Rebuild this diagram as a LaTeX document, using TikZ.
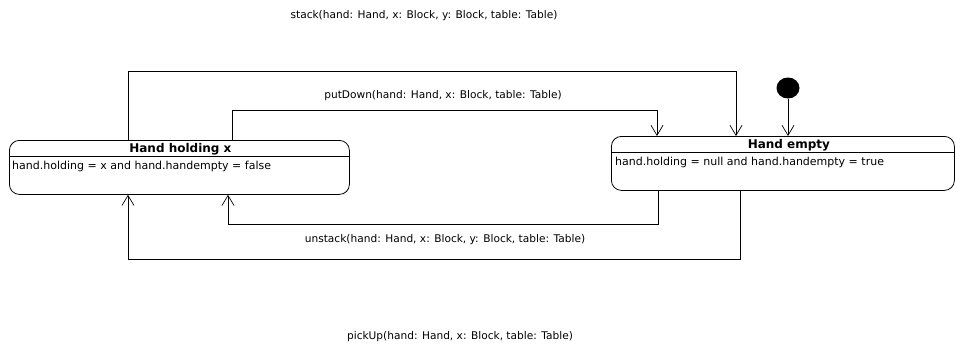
\documentclass[tikz,border=0pt]{standalone}
\usepackage{fontspec}
\setmainfont{DejaVu Sans}
\usetikzlibrary{arrows.meta,calc,shapes.geometric}
\tikzset{
  statebox/.style={draw, rounded corners=10pt, line width=0.8pt, minimum width=343pt, minimum height=54pt, anchor=north west, inner sep=0pt},
  titletext/.style={font=\fontsize{12}{14}\selectfont\bfseries, inner sep=0pt},
  bodytext/.style={font=\fontsize{11}{13}\selectfont, anchor=west, inner sep=0pt},
  lbl/.style={font=\fontsize{10.6}{12}\selectfont, inner sep=0pt},
  trans/.style={draw, line width=0.7pt, -{Straight Barb[length=10pt,width=12pt,line width=0.7pt]}},
}
\begin{document}
\begin{tikzpicture}[x=1pt,y=-1pt]
\useasboundingbox (0,0) rectangle (956,345);
% states
\node[statebox, minimum width=340pt] (L) at (9,140) {};
\draw[line width=0.8pt] ($(L.north west)+(0,16)$) -- ($(L.north east)+(0,16)$);
\node[titletext] (Lt) at ($(L.north)+(1,9)$) {Hand holding x};
\node[bodytext] (Lb) at ($(L.north west)+(3,26)$) {hand.holding = x and hand.handempty = false};

\node[statebox] (R) at (611,136) {};
\draw[line width=0.8pt] ($(R.north west)+(0,16)$) -- ($(R.north east)+(0,16)$);
\node[titletext] (Rt) at ($(R.north)+(6,9)$) {Hand empty};
\node[bodytext] (Rb) at ($(R.north west)+(4,26)$) {hand.holding = null and hand.handempty = true};

% initial
\node[ellipse, fill=black, minimum width=23pt, minimum height=21pt, inner sep=0pt] (I) at (788,88) {};
\draw[trans] (I.south) -- (I.south |- R.north);

% stack
\coordinate (s1) at (128,71);
\draw[trans] (L.north -| s1) -- (s1) -| ($(R.north west)+(125,0)$);
\node[lbl] (sl) at (424,16) {stack(hand: Hand, x: Block, y: Block, table: Table)};

% putDown
\coordinate (p1) at (232,110);
\draw[trans] (L.north -| p1) -- (p1) -| ($(R.north west)+(46,0)$);
\node[lbl] (pl) at (443,96) {putDown(hand: Hand, x: Block, table: Table)};

% unstack
\coordinate (u1) at (658,224);
\draw[trans] (R.south -| u1) -- (u1) -| ($(L.south west)+(219,0)$);
\node[lbl] (ul) at (445,240) {unstack(hand: Hand, x: Block, y: Block, table: Table)};

% pickUp
\coordinate (k1) at (740,259);
\draw[trans] (R.south -| k1) -- (k1) -| ($(L.south west)+(119,0)$);
\node[lbl] (kl) at (460,337) {pickUp(hand: Hand, x: Block, table: Table)};
\end{tikzpicture}
\end{document}
